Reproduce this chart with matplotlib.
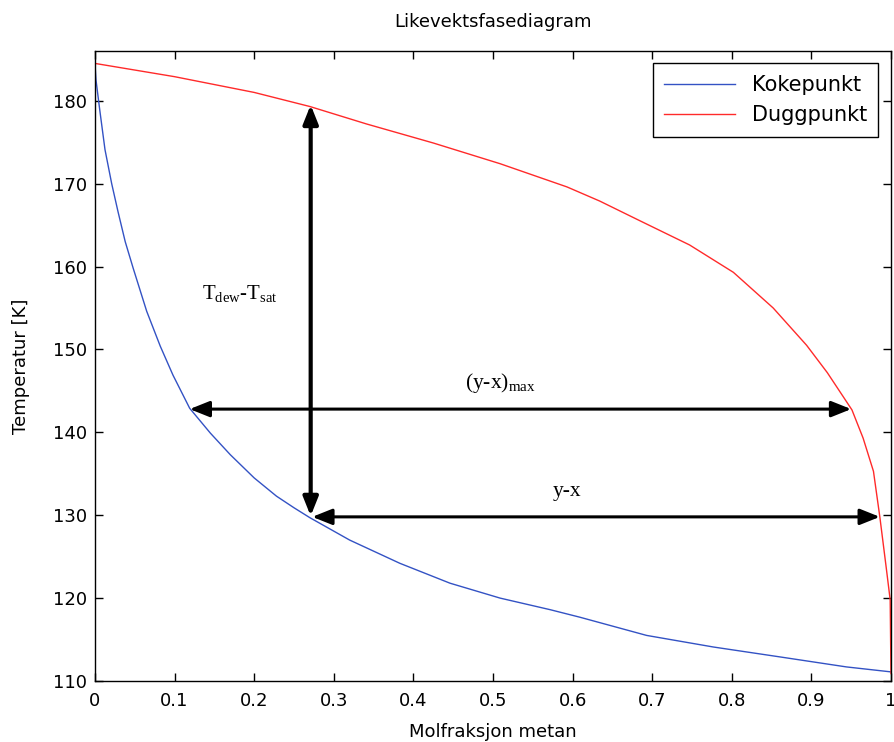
import matplotlib
matplotlib.use("Agg")
import matplotlib.pyplot as plt

# Boiling point curve (Kokepunkt): liquid mole fraction methane vs T
x_boil = [0.0, 0.0013, 0.006, 0.0126, 0.021, 0.029, 0.038, 0.048, 0.065, 0.082, 0.098, 0.119,
          0.145, 0.17, 0.2, 0.228, 0.25, 0.270, 0.32, 0.383, 0.446, 0.509, 0.572, 0.609,
          0.693, 0.777, 0.861, 0.944, 1.0]
T_boil = [184.5, 182.5, 178.9, 174.1, 170.0, 166.6, 163.0, 159.8, 154.6, 150.4, 146.9, 142.9,
          139.9, 137.3, 134.5, 132.3, 130.9, 129.7, 127.0, 124.2, 121.8, 120.0, 118.6, 117.7,
          115.5, 114.1, 112.9, 111.7, 111.1]

# Dew point curve (Duggpunkt): vapour mole fraction methane vs T
x_dew = [0.0, 0.1, 0.2, 0.270, 0.341, 0.425, 0.509, 0.593, 0.634, 0.685, 0.747, 0.802,
         0.852, 0.894, 0.92, 0.940, 0.951, 0.965, 0.978, 0.986, 0.994, 0.999, 1.0]
T_dew = [184.5, 182.9, 181.0, 179.3, 177.2, 174.9, 172.4, 169.6, 167.9, 165.5, 162.6, 159.3,
         155.0, 150.5, 147.2, 144.3, 142.7, 139.3, 135.3, 129.8, 123.7, 119.8, 110.9]

# Annotation arrows (x_start, x_end, T) and vertical (x, T_low, T_high)
arrow_ymax = (0.119, 0.950, 142.8)
arrow_yx = (0.273, 0.986, 129.8)
arrow_dT = (0.271, 129.9, 179.5)

plt.rcParams['mathtext.fontset'] = 'custom'
plt.rcParams['mathtext.rm'] = 'Liberation Serif'

fig = plt.figure(figsize=(8.95, 7.42), dpi=100)
ax = fig.add_axes([0.1061, 0.0822, 0.8894, 0.8491])

ax.plot(x_boil, T_boil, color='#3352c4', lw=1.0, label='Kokepunkt')
ax.plot(x_dew, T_dew, color='#ff2a2a', lw=1.0, label='Duggpunkt')

head = '<|-|>,head_length=0.75,head_width=0.3'
ax.annotate('', xy=(arrow_ymax[0], arrow_ymax[2]), xytext=(arrow_ymax[1], arrow_ymax[2]),
            arrowprops=dict(arrowstyle=head, lw=2.2, color='black', mutation_scale=16,
                            shrinkA=0, shrinkB=0))
ax.annotate('', xy=(arrow_yx[0], arrow_yx[2]), xytext=(arrow_yx[1], arrow_yx[2]),
            arrowprops=dict(arrowstyle=head, lw=2.2, color='black', mutation_scale=16,
                            shrinkA=0, shrinkB=0))
ax.annotate('', xy=(arrow_dT[0], arrow_dT[1]), xytext=(arrow_dT[0], arrow_dT[2]),
            arrowprops=dict(arrowstyle=head, lw=3.0, color='black', mutation_scale=15,
                            shrinkA=0, shrinkB=0))

serif = 'Liberation Serif'
ax.text(0.182, 156.6, r'T$_{\mathrm{dew}}$-T$_{\mathrm{sat}}$', family=serif, fontsize=15,
        ha='center', va='center')
ax.text(0.509, 145.9, r'(y-x)$_{\mathrm{max}}$', family=serif, fontsize=15.5,
        ha='center', va='center')
ax.text(0.593, 132.8, 'y-x', family=serif, fontsize=15.5, ha='center', va='center')

ax.set_xlim(0, 1)
ax.set_ylim(110, 186)
ax.set_xticks([i / 10 for i in range(11)])
ax.set_xticklabels(['0', '0.1', '0.2', '0.3', '0.4', '0.5', '0.6', '0.7', '0.8', '0.9', '1'])
ax.set_yticks(range(110, 190, 10))
ax.tick_params(direction='in', top=True, right=True, labelsize=13, length=6, width=1)
ax.tick_params(axis='x', pad=8)
ax.tick_params(axis='y', pad=6)
for s in ax.spines.values():
    s.set_linewidth(1.0)

ax.set_title('Likevektsfasediagram', fontsize=13, pad=17)
ax.set_xlabel('Molfraksjon metan', fontsize=13, labelpad=9)
ax.set_ylabel('Temperatur [K]', fontsize=13, labelpad=16)

leg = ax.legend(loc='upper right', fontsize=15, fancybox=False, framealpha=1,
                edgecolor='black', handlelength=3.4, borderaxespad=0.6,
                labelspacing=0.5, borderpad=0.55)
leg.get_frame().set_linewidth(1.0)

fig.savefig('out.png', dpi=100)
